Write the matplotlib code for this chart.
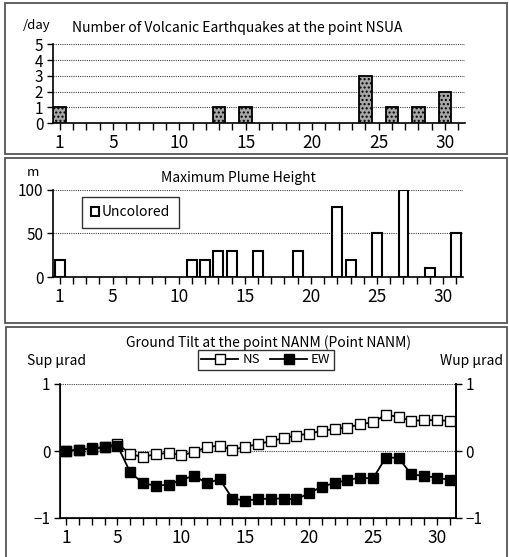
import matplotlib.pyplot as plt
from matplotlib.patches import Rectangle

plt.rcParams['font.family'] = ['Noto Sans CJK JP', 'DejaVu Sans']

days = list(range(1, 32))
tick_days = [1, 5, 10, 15, 20, 25, 30]

# volcanic earthquakes per day at NSUA
quake_days = [1, 13, 15, 24, 26, 28, 30]
quake_counts = [1, 1, 1, 3, 1, 1, 2]

# maximum plume height (m)
plume_days = [1, 11, 12, 13, 14, 16, 19, 22, 23, 25, 27, 29, 31]
plume_height = [20, 20, 20, 30, 30, 30, 30, 80, 20, 50, 100, 10, 50]

# ground tilt at NANM (micro radian)
tilt_ns = [0.0, 0.02, 0.04, 0.06, 0.11, -0.045, -0.09, -0.045, -0.03, -0.06,
           -0.02, 0.06, 0.08, 0.015, 0.065, 0.10, 0.15, 0.19, 0.23, 0.26,
           0.30, 0.33, 0.35, 0.40, 0.43, 0.54, 0.51, 0.45, 0.46, 0.46, 0.45]
tilt_ew = [0.0, 0.02, 0.035, 0.055, 0.08, -0.32, -0.48, -0.52, -0.50, -0.43,
           -0.37, -0.48, -0.42, -0.71, -0.74, -0.72, -0.71, -0.71, -0.72, -0.63,
           -0.53, -0.48, -0.43, -0.40, -0.41, -0.10, -0.10, -0.35, -0.37, -0.40,
           -0.43]

W, H = 509, 557
fig = plt.figure(figsize=(W / 100, H / 100), dpi=100)


def fx(px):
    return px / W


def fy(py):
    return 1 - py / H


def box(x0, y0, x1, y1):
    fig.add_artist(Rectangle((fx(x0), fy(y1)), fx(x1) - fx(x0), fy(y0) - fy(y1),
                             transform=fig.transFigure, fill=False,
                             edgecolor='#555555', linewidth=1.3))


def day_axis(ax):
    ax.set_xlim(0.5, 31.5)
    ax.set_xticks(days)
    ax.set_xticklabels([str(d) if d in tick_days else '' for d in days], fontsize=12.5)
    ax.tick_params(axis='x', direction='out', length=5, width=1, pad=3)
    ax.tick_params(axis='y', direction='out', length=4, width=1, labelsize=11, pad=3)
    ax.spines['top'].set_visible(False)
    ax.spines['right'].set_visible(False)
    for s in ax.spines.values():
        s.set_linewidth(1.2)


box(5, 3, 507, 154)
box(5, 158, 507, 323)
box(6, 327, 507, 560)

# ---- panel 1
ax1 = fig.add_axes([fx(53), fy(123), fx(465) - fx(53), fy(45) - fy(123) + 0.001])
ax1.bar(quake_days, quake_counts, width=0.95, facecolor='#a8a8a8',
        edgecolor='black', hatch='....', linewidth=1.3, zorder=3)
day_axis(ax1)
ax1.set_ylim(0, 5)
ax1.set_yticks([0, 1, 2, 3, 4, 5])
for v in [1, 2, 3, 4, 5]:
    ax1.axhline(v, color='#444444', linestyle=(0, (1, 1)), linewidth=0.8, zorder=1)
fig.text(fx(23), fy(25), '/day', fontsize=9.5, va='center', ha='left')
fig.text(fx(237), fy(28), 'Number of Volcanic Earthquakes at the point NSUA',
         fontsize=10, ha='center', va='center')

# ---- panel 2
ax2 = fig.add_axes([fx(53), fy(277), fx(463) - fx(53), fy(190) - fy(277)])
ax2.bar(plume_days, plume_height, width=0.75, facecolor='white',
        edgecolor='black', linewidth=1.5, zorder=3, label='Uncolored')
day_axis(ax2)
ax2.set_ylim(0, 100)
ax2.set_yticks([0, 50, 100])
for v in [50, 100]:
    ax2.axhline(v, color='#444444', linestyle=(0, (1, 1)), linewidth=0.8, zorder=1)
ax2.legend(loc='upper left', bbox_to_anchor=(0.055, 1.0), fontsize=10,
           frameon=True, fancybox=False, edgecolor='black', handlelength=0.6,
           handleheight=0.6, handletextpad=0.2, borderpad=0.6)
fig.text(fx(33), fy(173), 'm', fontsize=9.5, ha='center', va='center')
fig.text(fx(238), fy(178), 'Maximum Plume Height', fontsize=10,
         ha='center', va='center')

# ---- panel 3
ax3 = fig.add_axes([fx(60), fy(518), fx(456) - fx(60), fy(384) - fy(518)])
ax3.plot(days, tilt_ns, '-s', color='black', markerfacecolor='white',
         markeredgecolor='black', markersize=7.5, linewidth=1.3, label='NS', zorder=3)
ax3.plot(days, tilt_ew, '-s', color='black', markerfacecolor='black',
         markersize=7.5, linewidth=1.3, label='EW', zorder=4)
day_axis(ax3)
ax3.spines['right'].set_visible(True)
ax3.set_ylim(-1, 1)
ax3.set_yticks([-1, 0, 1])
for v in [0, 1]:
    ax3.axhline(v, color='#444444', linestyle=(0, (1, 1)), linewidth=0.8, zorder=1)
ax3r = ax3.twinx()
ax3r.set_ylim(-1, 1)
ax3r.set_yticks([-1, 0, 1])
ax3r.tick_params(axis='y', direction='out', length=4, width=1, labelsize=11, pad=3)
ax3r.spines['top'].set_visible(False)
ax3r.spines['right'].set_linewidth(1.2)
ax3.legend(loc='center', bbox_to_anchor=(0.52, 1.18), ncol=2, fontsize=9.5,
           frameon=True, fancybox=False, edgecolor='black', handlelength=2.8,
           columnspacing=0.8, handletextpad=0.3, borderpad=0.25)
fig.text(fx(268), fy(343), 'Ground Tilt at the point NANM (Point NANM)',
         fontsize=10, ha='center', va='center')
fig.text(fx(27), fy(361), 'Sup μrad', fontsize=10, ha='left', va='center')
fig.text(fx(503), fy(361), 'Wup μrad', fontsize=10, ha='right', va='center')

fig.savefig('out.png', dpi=100)
